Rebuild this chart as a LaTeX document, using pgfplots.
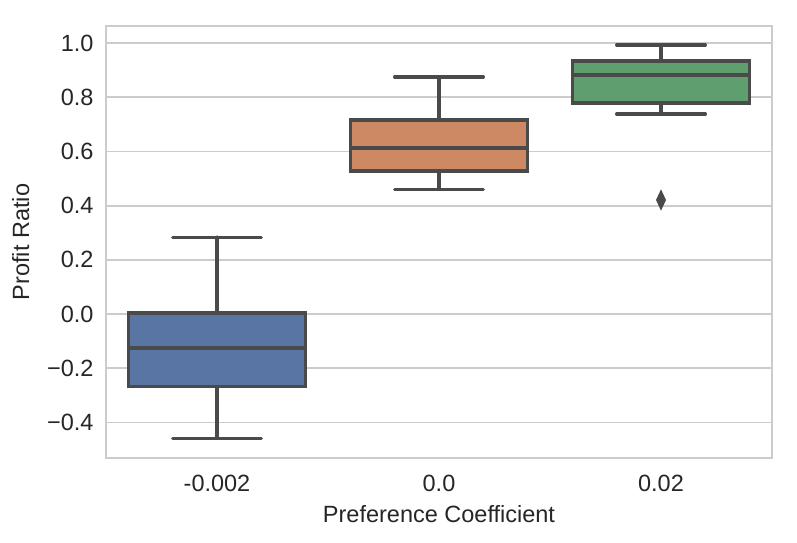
\documentclass[border=0pt]{standalone}
\usepackage{fontspec}
\setmainfont{Liberation Sans}
\usepackage{pgfplots}
\pgfplotsset{compat=1.18}
\usepgfplotslibrary{statistics}
\definecolor{cblue}{HTML}{5975A4}
\definecolor{corange}{HTML}{CC8963}
\definecolor{cgreen}{HTML}{5F9E6E}
\definecolor{cline}{HTML}{4A4A4A}
\definecolor{cgrid}{HTML}{CCCCCC}
\definecolor{ctext}{HTML}{262626}
\tikzset{bxline/.style={draw=cline, line width=3.2bp}}
\begin{document}
\begin{tikzpicture}
\begin{axis}[
  scale only axis, width=666bp, height=432bp,
  xmin=-0.5, xmax=2.5, ymin=-0.531, ymax=1.063,
  xtick={0,1,2}, xticklabels={-0.002,0.0,0.02},
  ytick={-0.4,-0.2,0,0.2,0.4,0.6,0.8,1.0},
  yticklabels={−0.4,−0.2,0.0,0.2,0.4,0.6,0.8,1.0},
  major tick length=0pt,
  ymajorgrids, xmajorgrids=false,
  grid style={cgrid, line width=1.8bp},
  axis line style={cgrid, line width=2bp},
  tick label style={font=\fontsize{23.5bp}{28bp}\selectfont, text=ctext},
  label style={font=\fontsize{23.5bp}{28bp}\selectfont, text=ctext},
  yticklabel style={xshift=-9bp},
  xticklabel style={yshift=-14bp},
  xlabel={Preference Coefficient},
  ylabel={Profit Ratio},
  xlabel style={at={([yshift=-44bp]axis description cs:0.5,0)}, anchor=north},
  ylabel style={at={([xshift=-73bp]axis description cs:0,0.5)}, anchor=south},
  /pgf/number format/assume math mode=true,
  boxplot/draw direction=y,
  boxplot/box extend=0.8,
  boxplot/whisker extend=0.4,
  boxplot/every box/.style={bxline},
  boxplot/every whisker/.style={bxline, line cap=round},
  boxplot/every median/.style={bxline},
]
\addplot[boxplot prepared={draw position=0, lower whisker=-0.458, lower quartile=-0.266, median=-0.125, upper quartile=0.004, upper whisker=0.284}, fill=cblue, bxline] coordinates {};
\addplot[boxplot prepared={draw position=1, lower whisker=0.461, lower quartile=0.528, median=0.613, upper quartile=0.716, upper whisker=0.875}, fill=corange, bxline] coordinates {};
\addplot[boxplot prepared={draw position=2, lower whisker=0.738, lower quartile=0.779, median=0.882, upper quartile=0.934, upper whisker=0.993}, fill=cgreen, bxline, mark=diamond*, mark size=9.5bp, mark options={fill=cline, draw=cline, line width=1bp, xscale=0.62}] coordinates {(2,0.421)};
\end{axis}
\path (-106bp,-85bp) rectangle (691bp,458bp);
\end{tikzpicture}
\end{document}
